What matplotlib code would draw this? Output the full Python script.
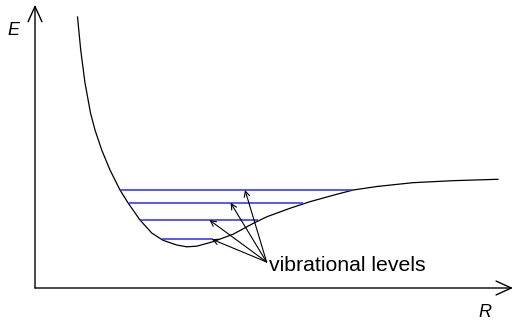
"""Potential energy curve with vibrational levels (schematic)."""

import matplotlib
matplotlib.use("Agg")
import matplotlib.pyplot as plt

plt.rcParams["font.family"] = ["Liberation Sans", "DejaVu Sans"]

# Potential curve E(R)
R_CURVE = [1.063, 1.143, 1.25, 1.388, 1.50, 1.668, 1.875, 2.125, 2.333, 2.625,
           2.918, 3.20, 3.543, 3.793, 4.043, 4.45, 4.95, 5.45, 5.80, 6.375,
           6.875, 7.543, 7.958, 8.55, 9.45, 10.45, 11.575]
E_CURVE = [6.775, 5.95, 5.125, 4.375, 3.95, 3.45, 2.95, 2.45, 2.118, 1.70,
           1.375, 1.193, 1.075, 1.03, 1.045, 1.158, 1.343, 1.613, 1.783, 1.993,
           2.158, 2.343, 2.45, 2.538, 2.633, 2.683, 2.718]

# Vibrational levels: energy and left/right turning points
LEVEL_E = [2.45, 2.13, 1.70, 1.22]
LEVEL_R_LEFT = [2.13, 2.35, 2.63, 3.18]
LEVEL_R_RIGHT = [7.95, 6.70, 5.58, 4.45]

# Where each annotation arrow lands on its level
ARROW_TIP_R = [5.25, 4.89, 4.36, 4.42]
LABEL_ANCHOR = (5.79, 0.65)
LABEL_TEXT = "vibrational levels"

X_MAX, Y_MAX = 11.95, 7.08


def main() -> None:
    fig = plt.figure(figsize=(5.14, 3.20), dpi=100)
    ax = fig.add_axes([0, 0, 1, 1])
    ax.set_xlim(-0.875, 11.975)
    ax.set_ylim(-0.8, 7.2)
    ax.axis("off")

    # axes with open arrow heads
    big = dict(arrowstyle="->,head_length=0.55,head_width=0.25",
               mutation_scale=20, lw=1.0, color="black", shrinkA=0, shrinkB=0)
    ax.annotate("", xy=(X_MAX, 0), xytext=(0, 0), arrowprops=big)
    ax.annotate("", xy=(0, Y_MAX), xytext=(0, 0), arrowprops=big)
    ax.text(-0.70, 6.33, "E", fontsize=13, style="italic", ha="left", va="baseline")
    ax.text(11.08, -0.73, "R", fontsize=13, style="italic", ha="left", va="baseline")

    ax.plot(R_CURVE, E_CURVE, color="black", lw=0.9, solid_joinstyle="round")
    ax.hlines(LEVEL_E, LEVEL_R_LEFT, LEVEL_R_RIGHT, color="#2828ff", lw=1.1)

    small = dict(arrowstyle="->", lw=0.8, color="black", shrinkA=0, shrinkB=0)
    for r_tip, e in zip(ARROW_TIP_R, LEVEL_E):
        ax.annotate("", xy=(r_tip, e), xytext=LABEL_ANCHOR, arrowprops=small)
    ax.text(LABEL_ANCHOR[0] + 0.05, LABEL_ANCHOR[1] - 0.22, LABEL_TEXT,
            fontsize=15.3, ha="left", va="baseline")

    fig.savefig("out.png", dpi=100)
    plt.close(fig)


if __name__ == "__main__":
    main()
